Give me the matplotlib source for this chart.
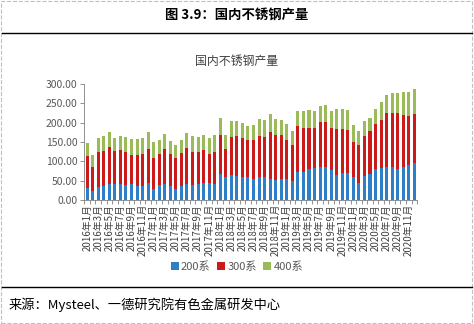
import matplotlib.pyplot as plt
import numpy as np
from matplotlib.patches import Rectangle
from matplotlib.lines import Line2D

plt.rcParams['font.family'] = ['Noto Sans CJK SC', 'DejaVu Sans']

# months 2016-01 .. 2020-12
months = [f"{y}年{m}月" for y in range(2016, 2021) for m in range(1, 13)]

s200 = [32, 22, 34, 36, 40, 40, 40, 39, 40, 37, 35, 43,
        28, 38, 40, 35, 29, 36, 41, 38, 42, 44, 43, 40,
        66, 58, 64, 62, 58, 59, 53, 59, 59, 55, 52, 55,
        54, 49, 72, 72, 79, 83, 85, 85, 78, 65, 70, 70,
        59, 44, 62, 66, 79, 82, 84, 84, 80, 84, 91, 96]
s300 = [82, 62, 89, 91, 98, 87, 90, 85, 76, 79, 85, 89,
        81, 82, 92, 85, 80, 86, 93, 87, 83, 84, 76, 83,
        103, 74, 98, 103, 101, 95, 103, 105, 104, 121, 116, 113,
        100, 93, 118, 115, 108, 104, 116, 116, 109, 119, 114, 111,
        92, 97, 104, 112, 118, 124, 140, 142, 145, 136, 126, 127]
s400 = [33, 32, 37, 39, 37, 34, 34, 38, 42, 42, 39, 44,
        42, 36, 39, 33, 32, 34, 38, 41, 38, 40, 40, 44,
        43, 36, 41, 39, 40, 37, 39, 45, 44, 45, 41, 38,
        42, 36, 40, 43, 46, 43, 42, 44, 44, 50, 50, 51,
        44, 37, 38, 34, 38, 47, 48, 51, 51, 58, 61, 64]
series_names = ["200系", "300系", "400系"]
colors = ["#2E7FC8", "#CC1A1A", "#9BBB59"]

fig = plt.figure(figsize=(4.74, 3.24), dpi=100)
ax = fig.add_axes([0.178, 0.383, 0.702, 0.358])

x = np.arange(len(months))
b1 = np.array(s200)
b2 = b1 + np.array(s300)
ax.bar(x, s200, width=0.55, color=colors[0], label=series_names[0])
ax.bar(x, s300, width=0.55, bottom=b1, color=colors[1], label=series_names[1])
ax.bar(x, s400, width=0.55, bottom=b2, color=colors[2], label=series_names[2])

ax.set_xlim(-0.5, len(months) - 0.5)
ax.set_ylim(0, 300)
ax.set_yticks(np.arange(0, 301, 50))
ax.set_yticklabels([f"{v:.2f}" for v in np.arange(0, 301, 50)], fontsize=7.5, color="#595959")
ax.set_xticks(x[::2])
ax.set_xticklabels(months[::2], rotation=90, fontsize=7, color="#404040")
ax.set_xticks(np.arange(-0.5, len(months), 1), minor=True)
ax.tick_params(axis="x", which="major", length=0, pad=3)
ax.tick_params(axis="x", which="minor", length=3, color="#7f7f7f", width=0.6)
ax.tick_params(axis="y", length=3, color="#7f7f7f", width=0.6, pad=2)
for side in ["top", "right"]:
    ax.spines[side].set_visible(False)
ax.spines["left"].set_color("#7f7f7f")
ax.spines["bottom"].set_color("#7f7f7f")
ax.spines["left"].set_linewidth(0.6)
ax.spines["bottom"].set_linewidth(0.6)

fig.legend(loc="center", bbox_to_anchor=(0.5, 0.176), ncol=3, frameon=False,
           fontsize=8, labelcolor="#595959", handlelength=0.7, handleheight=0.7,
           handletextpad=0.2, columnspacing=0.6)

fig.text(0.5, 0.954, "图 3.9：国内不锈钢产量", ha="center", va="center",
         fontsize=9.6, fontweight="bold")
fig.text(0.5, 0.809, "国内不锈钢产量", ha="center", va="center",
         fontsize=8.6, color="#404040")
fig.text(0.017, 0.059, "来源：Mysteel、一德研究院有色金属研发中心", ha="left",
         va="center", fontsize=9.5)

fig.add_artist(Line2D([0.004, 0.996], [0.898, 0.898], color="black", lw=1.0))
fig.add_artist(Line2D([0.004, 0.996], [0.114, 0.114], color="black", lw=1.0))
fig.add_artist(Rectangle((0.002, 0.003), 0.994, 0.994, fill=False,
                         edgecolor="#c0c0c0", lw=0.8, ls="--"))

fig.savefig("out.png", dpi=100)
